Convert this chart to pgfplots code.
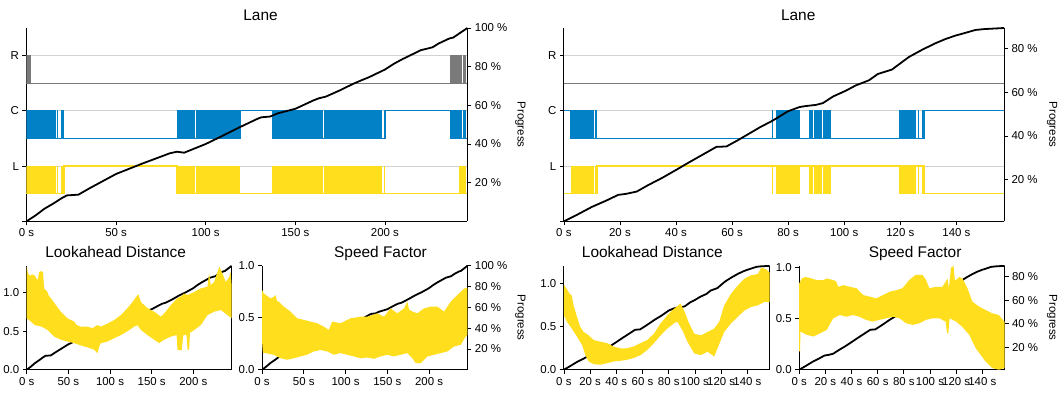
\documentclass[border=0pt]{standalone}
\usepackage{fontspec}
\setmainfont{Liberation Sans}
\usepackage{pgfplots}
\usepackage{pgfplotstable}
\pgfplotsset{compat=1.18}
\definecolor{cy}{HTML}{FFDE1E}
\definecolor{cb}{HTML}{0281C6}
\definecolor{cgr}{HTML}{7A7A7A}
\definecolor{grd}{HTML}{D2D2D2}
\newcommand{\tickfont}{\fontsize{11.5}{13}\selectfont}
\newcommand{\bnd}[5]{\addplot[fill=#1, draw=none, forget plot] coordinates {(#2,#4) (#2,#5) (#3,#5) (#3,#4)};}
\pgfplotsset{
 cmn/.style={scale only axis, anchor=south west, xmin=0,
   axis line style={line width=0.8pt, black},
   tick style={line width=0.7pt, black},
   major tick length=4bp,
   tick label style={font=\tickfont},
   /pgf/number format/assume math mode=true},
 mainax/.style={cmn, axis x line*=bottom, axis y line*=left, tick align=outside},
 progax/.style={cmn, axis x line=none, axis y line*=right, tick align=outside, xtick=\empty},
 laneax/.style={mainax, height=193.5bp, ymin=0, ymax=3.5, ytick={0,1,2,3}, yticklabels={{},L,C,R},
   ymajorgrids, grid style={line width=0.8pt, grd}},
 lowax/.style={mainax, height=104bp, ymin=0,
   yticklabel style={/pgf/number format/.cd, fixed, fixed zerofill, precision=1}},
 pline/.style={black, line width=1.8pt, no markers},
 lstep/.style={line width=1.2pt, const plot, no markers},
}
\pgfplotstableread{
t p
0 0
5 3
10 6.5
15 9.2
19.7 12
22.5 13.4
29 13.8
35 17
50 24.5
65 30
80 35.2
84 36
88 35.5
92 37
100 40
110 44.5
119 48.7
128.8 53
131 53.8
136 54.2
140 55.8
150 58.2
160 62.5
163 63.6
167 64.5
175 67.8
182 71
187 73
191 74.5
200 78.5
205 81.5
210 84
220 88.5
226.5 90
230 92
236 94.6
238 95
242 97.5
246 100
}\progL
\pgfplotstableread{
t p
0 1
5 4.2
10 7.6
15 10.4
19.4 13.1
22 13.5
26 14.6
30 17.5
35 20.8
40.2 24.6
45 28.2
50 31.8
54.4 35
58 35.2
62 38
66 41
70 44
74.5 47
80 51.3
84.1 53.2
86 53.6
90 54.2
92.4 55
96 58
100.8 60.8
104 63
108.8 65.4
112 68.3
115 69.5
117 70.3
123 76
128 79.5
132.5 82.3
136 84.2
139.6 85.8
143 87
146.8 88.4
150 88.8
155.8 89.2
157 89.3
}\progR
\begin{document}
\begin{tikzpicture}
\path (0,0) rectangle (1064bp,394bp);
% ================= Lane left
\begin{axis}[laneax, at={(25.7bp,172.5bp)}, width=441.3bp, xmax=246,
  xtick={0,50,100,150,200}, xticklabels={0 s,50 s,100 s,150 s,200 s}]
\addplot[lstep, color=cgr] coordinates {(0,2.5) (246,2.5)};
\bnd{cgr}{0}{2.4}{2.49}{3.01}
\bnd{cgr}{236.5}{241.6}{2.49}{3.01}
\bnd{cgr}{242.0}{242.9}{2.49}{3.01}
\bnd{cgr}{243.3}{245.3}{2.49}{3.01}
\addplot[lstep, color=cb] coordinates {(0,1.5) (119.4,2) (137.1,1.5) (200.2,2) (236.5,1.5) (246,1.5)};
\bnd{cb}{0}{16.3}{1.49}{2.01}
\bnd{cb}{17.3}{17.8}{1.49}{2.01}
\bnd{cb}{19.0}{21.0}{1.49}{2.01}
\bnd{cb}{84}{90.5}{1.49}{2.01}
\bnd{cb}{90.9}{94.2}{1.49}{2.01}
\bnd{cb}{94.6}{119.4}{1.49}{2.01}
\bnd{cb}{137.1}{165.7}{1.49}{2.01}
\bnd{cb}{166.1}{174.1}{1.49}{2.01}
\bnd{cb}{174.5}{193.6}{1.49}{2.01}
\bnd{cb}{194.0}{198.4}{1.49}{2.01}
\bnd{cb}{199.5}{200.2}{1.49}{2.01}
\bnd{cb}{236.5}{241.6}{1.49}{2.01}
\bnd{cb}{242.0}{242.9}{1.49}{2.01}
\bnd{cb}{243.3}{245.3}{1.49}{2.01}
\addplot[lstep, color=cy] coordinates {(0,0.5) (21,1) (84,0.5) (246,0.5)};
\bnd{cy}{0}{16.3}{0.49}{1.01}
\bnd{cy}{17.3}{17.8}{0.49}{1.01}
\bnd{cy}{19.0}{21.0}{0.49}{1.01}
\bnd{cy}{84}{90.5}{0.49}{1.01}
\bnd{cy}{90.9}{94.2}{0.49}{1.01}
\bnd{cy}{94.6}{119.4}{0.49}{1.01}
\bnd{cy}{137.1}{165.7}{0.49}{1.01}
\bnd{cy}{166.1}{174.1}{0.49}{1.01}
\bnd{cy}{174.5}{193.6}{0.49}{1.01}
\bnd{cy}{194.0}{198.4}{0.49}{1.01}
\bnd{cy}{199.5}{200.2}{0.49}{1.01}
\bnd{cy}{241.4}{245.3}{0.49}{1.01}
\end{axis}
\begin{axis}[progax, at={(25.7bp,172.5bp)}, width=441.3bp, height=193.5bp, xmax=246,
  ymin=0, ymax=100, ytick={20,40,60,80,100}, yticklabels={20 \%,40 \%,60 \%,80 \%,100 \%}]
\addplot[pline] table[x=t,y=p] {\progL};
\end{axis}
% ================= Lane right
\begin{axis}[laneax, at={(563.5bp,172.5bp)}, width=440.5bp, xmax=157,
  xtick={0,20,40,60,80,100,120,140}, xticklabels={0 s,20 s,40 s,60 s,80 s,100 s,120 s,140 s}]
\addplot[lstep, color=cgr] coordinates {(0,2.5) (157,2.5)};
\addplot[lstep, color=cb] coordinates {(0,2) (2.4,1.5) (128.7,2) (157,2)};
\bnd{cb}{2.4}{9.9}{1.49}{2.01}
\bnd{cb}{10.2}{10.6}{1.49}{2.01}
\bnd{cb}{11.2}{11.8}{1.49}{2.01}
\bnd{cb}{74.2}{74.6}{1.49}{2.01}
\bnd{cb}{75.8}{84.2}{1.49}{2.01}
\bnd{cb}{87.5}{88.9}{1.49}{2.01}
\bnd{cb}{89.2}{92.2}{1.49}{2.01}
\bnd{cb}{92.4}{95.1}{1.49}{2.01}
\bnd{cb}{119.4}{125.7}{1.49}{2.01}
\bnd{cb}{126.2}{126.6}{1.49}{2.01}
\bnd{cb}{127.9}{128.7}{1.49}{2.01}
\addplot[lstep, color=cy] coordinates {(0,0.5) (11.8,1) (128.7,0.5) (157,0.5)};
\bnd{cy}{2.4}{9.9}{0.49}{1.01}
\bnd{cy}{10.2}{10.6}{0.49}{1.01}
\bnd{cy}{11.2}{11.8}{0.49}{1.01}
\bnd{cy}{74.2}{74.6}{0.49}{1.01}
\bnd{cy}{75.8}{84.2}{0.49}{1.01}
\bnd{cy}{87.5}{88.9}{0.49}{1.01}
\bnd{cy}{89.2}{92.2}{0.49}{1.01}
\bnd{cy}{92.4}{95.1}{0.49}{1.01}
\bnd{cy}{119.4}{125.7}{0.49}{1.01}
\bnd{cy}{126.2}{126.6}{0.49}{1.01}
\bnd{cy}{127.9}{128.7}{0.49}{1.01}
\end{axis}
\begin{axis}[progax, at={(563.5bp,172.5bp)}, width=440.5bp, height=193.5bp, xmax=157,
  ymin=1, ymax=89.3, ytick={20,40,60,80}, yticklabels={20 \%,40 \%,60 \%,80 \%}]
\addplot[pline] table[x=t,y=p] {\progR};
\end{axis}
% ================= Lookahead left
\begin{axis}[progax, at={(26bp,24bp)}, width=205bp, height=104bp, xmax=246, ymin=0, ymax=100, ytick=\empty]
\addplot[pline] table[x=t,y=p] {\progL};
\end{axis}
\begin{axis}[lowax, at={(26bp,24bp)}, width=205bp, xmax=246, ymax=1.35, ytick={0,0.5,1},
  xtick={0,50,100,150,200}, xticklabels={0 s,50 s,100 s,150 s,200 s}]
\addplot[fill=cy, draw=none] coordinates {
(0,1.336) (1.6,1.25) (4,1.22) (6.6,1.24) (10,1.22) (12.9,1.16) (14.9,1.27) (17,1.28) (19.5,1.27) (20.9,1.056) (24.9,1.01) (26,0.97) (28.9,0.93) (31,0.90) (34.9,0.84) (40.9,0.754) (44,0.72) (48.9,0.668) (56.9,0.625) (60,0.58) (64.9,0.56) (72.9,0.56) (78.9,0.54) (85,0.58) (89,0.56) (97,0.60) (105,0.646) (113,0.71) (121,0.80) (127,0.88) (133,0.97) (134,0.98) (137,0.88) (145,0.80) (153,0.754) (161,0.69) (165,0.73) (173,0.84) (181,0.93) (185,0.95) (189,0.99) (193,0.97) (201,1.01) (209,1.056) (217,1.08) (219,1.25) (221,1.1) (225,1.14) (230,1.30) (231.5,1.336) (233,1.30) (235,1.25) (239,1.14) (243,1.2) (245,1.27) (246,1.1)
(246,0.668) (241,0.71) (233,0.776) (225,0.754) (217,0.71) (209,0.58) (199,0.50) (196,0.48) (195,0.26) (193,0.26) (192,0.45) (188,0.45) (186,0.25) (181,0.26) (180,0.45) (173,0.43) (165,0.39) (159,0.345) (153,0.39) (145,0.45) (137,0.517) (133,0.58) (129,0.56) (121,0.50) (113,0.45) (105,0.41) (97,0.366) (89,0.345) (87,0.3) (85,0.215) (81,0.26) (73,0.29) (65,0.315) (57,0.345) (49,0.366) (41,0.39) (33,0.43) (25,0.517) (17.7,0.56) (9.6,0.58) (5,0.625) (0,0.668)
};
\end{axis}
% ================= Speed left
\begin{axis}[progax, at={(261.5bp,24bp)}, width=205.5bp, height=104bp, xmax=246, ymin=0, ymax=100,
  ytick={20,40,60,80,100}, yticklabels={20 \%,40 \%,60 \%,80 \%,100 \%}]
\addplot[pline] table[x=t,y=p] {\progL};
\end{axis}
\begin{axis}[lowax, at={(261.5bp,24bp)}, width=205.5bp, xmax=246, ymax=1.0, ytick={0,0.5,1},
  xtick={0,50,100,150,200}, xticklabels={0 s,50 s,100 s,150 s,200 s}]
\addplot[fill=cy, draw=none] coordinates {
(0,0.767) (2,0.735) (10,0.687) (14,0.70) (16,0.72) (18,0.66) (20,0.655) (26,0.607) (34,0.56) (42,0.495) (50,0.48) (58,0.463) (66,0.447) (74,0.415) (80,0.383) (84,0.463) (94,0.447) (106,0.495) (118,0.51) (126,0.51) (138,0.543) (146,0.51) (154,0.59) (162,0.543) (170,0.59) (174,0.655) (176,0.58) (180,0.56) (186,0.543) (194,0.59) (202,0.607) (210,0.607) (218,0.56) (226,0.655) (234,0.72) (242,0.78) (246,0.79)
(246,0.335) (244,0.32) (238,0.24) (230,0.224) (222,0.176) (214,0.16) (206,0.144) (198,0.128) (190,0.064) (184,0.064) (180,0.11) (174,0.16) (166,0.144) (158,0.128) (150,0.144) (142,0.128) (134,0.105) (126,0.118) (118,0.11) (110,0.128) (102,0.144) (94,0.16) (86,0.144) (78,0.176) (70,0.19) (62,0.176) (54,0.144) (46,0.128) (38,0.11) (30,0.096) (22,0.11) (14,0.144) (4,0.16) (1,0.16) (0,0.27)
};
\end{axis}
% ================= Lookahead right
\begin{axis}[progax, at={(563.5bp,24bp)}, width=206bp, height=104bp, xmax=157, ymin=1, ymax=89.3, ytick=\empty]
\addplot[pline] table[x=t,y=p] {\progR};
\end{axis}
\begin{axis}[lowax, at={(563.5bp,24bp)}, width=206bp, xmax=157, ymax=1.21, ytick={0,0.5,1},
  xtick={0,20,40,60,80,100,120,140}, xticklabels={0 s,20 s,40 s,60 s,80 s,100 s,120 s,140 s}]
\addplot[fill=cy, draw=none] coordinates {
(0,0.99) (2.3,0.94) (4.3,0.885) (6,0.865) (7.4,0.75) (10,0.615) (12.5,0.5) (15,0.44) (19,0.40) (22.7,0.346) (27.8,0.327) (33,0.31) (38,0.27) (43,0.25) (48,0.25) (53,0.27) (58.5,0.31) (63.6,0.346) (68.7,0.42) (73.8,0.54) (79,0.635) (84,0.71) (89,0.77) (91.7,0.69) (95.5,0.54) (99.4,0.42) (104.5,0.40) (109.6,0.44) (114.7,0.48) (118.5,0.56) (122.3,0.75) (127.5,0.885) (132.6,0.98) (137.7,1.06) (142.8,1.10) (148,1.115) (150.5,1.19) (154.3,1.17) (157,1.13)
(157,0.79) (153,0.79) (148,0.75) (142.8,0.73) (137.7,0.69) (132.6,0.615) (127.5,0.54) (122.3,0.44) (117.2,0.25) (114.7,0.154) (109.6,0.21) (104.5,0.17) (99.4,0.19) (94.2,0.327) (90.4,0.46) (86.5,0.56) (84,0.54) (79,0.48) (73.8,0.40) (68.7,0.31) (63.6,0.23) (58.5,0.17) (53,0.135) (48,0.115) (43,0.104) (38,0.096) (33,0.077) (27.8,0.058) (22.7,0.065) (18.9,0.096) (16.4,0.17) (13.8,0.29) (10,0.385) (6,0.48) (2.3,0.56) (0,0.635)
};
\end{axis}
% ================= Speed right
\begin{axis}[progax, at={(799bp,24bp)}, width=205.5bp, height=104bp, xmax=157, ymin=1, ymax=89.3,
  ytick={20,40,60,80}, yticklabels={20 \%,40 \%,60 \%,80 \%}]
\addplot[pline] table[x=t,y=p] {\progR};
\end{axis}
\begin{axis}[lowax, at={(799bp,24bp)}, width=205.5bp, xmax=157, ymax=1.02, ytick={0,0.5,1},
  xtick={0,20,40,60,80,100,120,140}, xticklabels={0 s,20 s,40 s,60 s,80 s,100 s,120 s,140 s}]
\addplot[fill=cy, draw=none] coordinates {
(0,0.847) (2,0.896) (4.6,0.91) (8.4,0.90) (13.4,0.88) (18.5,0.88) (21,0.896) (26,0.88) (28,0.87) (30,0.814) (33.7,0.83) (38.7,0.814) (43.8,0.80) (48.9,0.733) (54,0.717) (59,0.70) (64,0.733) (69,0.765) (74,0.78) (79,0.80) (84,0.88) (89,0.93) (94.4,0.93) (97,0.88) (99.5,0.80) (104.6,0.814) (109.6,0.814) (113.4,0.896) (114.5,0.80) (116,1.0) (118,1.02) (119,0.88) (120,0.88) (122.3,0.91) (124.8,0.896) (128.6,0.80) (132.4,0.668) (137.5,0.62) (142.5,0.586) (147.6,0.554) (152.7,0.537) (155,0.50) (157,0.47)
(157,0.016) (152.7,0.0) (147.6,0.016) (142.5,0.08) (138.7,0.147) (135,0.21) (130,0.342) (124.8,0.42) (120,0.472) (115,0.505) (114,0.358) (113,0.358) (112,0.472) (107,0.505) (102,0.505) (97,0.49) (91.9,0.456) (86.8,0.44) (81.8,0.456) (76.7,0.505) (71.6,0.52) (66.6,0.505) (61.5,0.49) (56,0.472) (51,0.49) (46,0.52) (41,0.537) (36,0.52) (31,0.537) (26,0.505) (21,0.39) (16,0.358) (10.9,0.326) (5.8,0.342) (1,0.375) (0.6,0.18) (0,0.18)
};
\end{axis}
% ================= titles and side labels
\begin{scope}[every node/.style={font=\fontsize{15.5}{17}\selectfont, anchor=base}]
\node at (260bp,373.3bp) {Lane};
\node at (798bp,373.3bp) {Lane};
\node at (115bp,136bp) {Lookahead Distance};
\node at (380bp,136bp) {Speed Factor};
\node at (652bp,136bp) {Lookahead Distance};
\node at (915bp,136bp) {Speed Factor};
\end{scope}
\begin{scope}[every node/.style={font=\fontsize{11.5}{13}\selectfont, rotate=-90}]
\node at (520bp,269.25bp) {Progress};
\node at (1052bp,269.25bp) {Progress};
\node at (520bp,76bp) {Progress};
\node at (1052bp,76bp) {Progress};
\end{scope}
\end{tikzpicture}
\end{document}
